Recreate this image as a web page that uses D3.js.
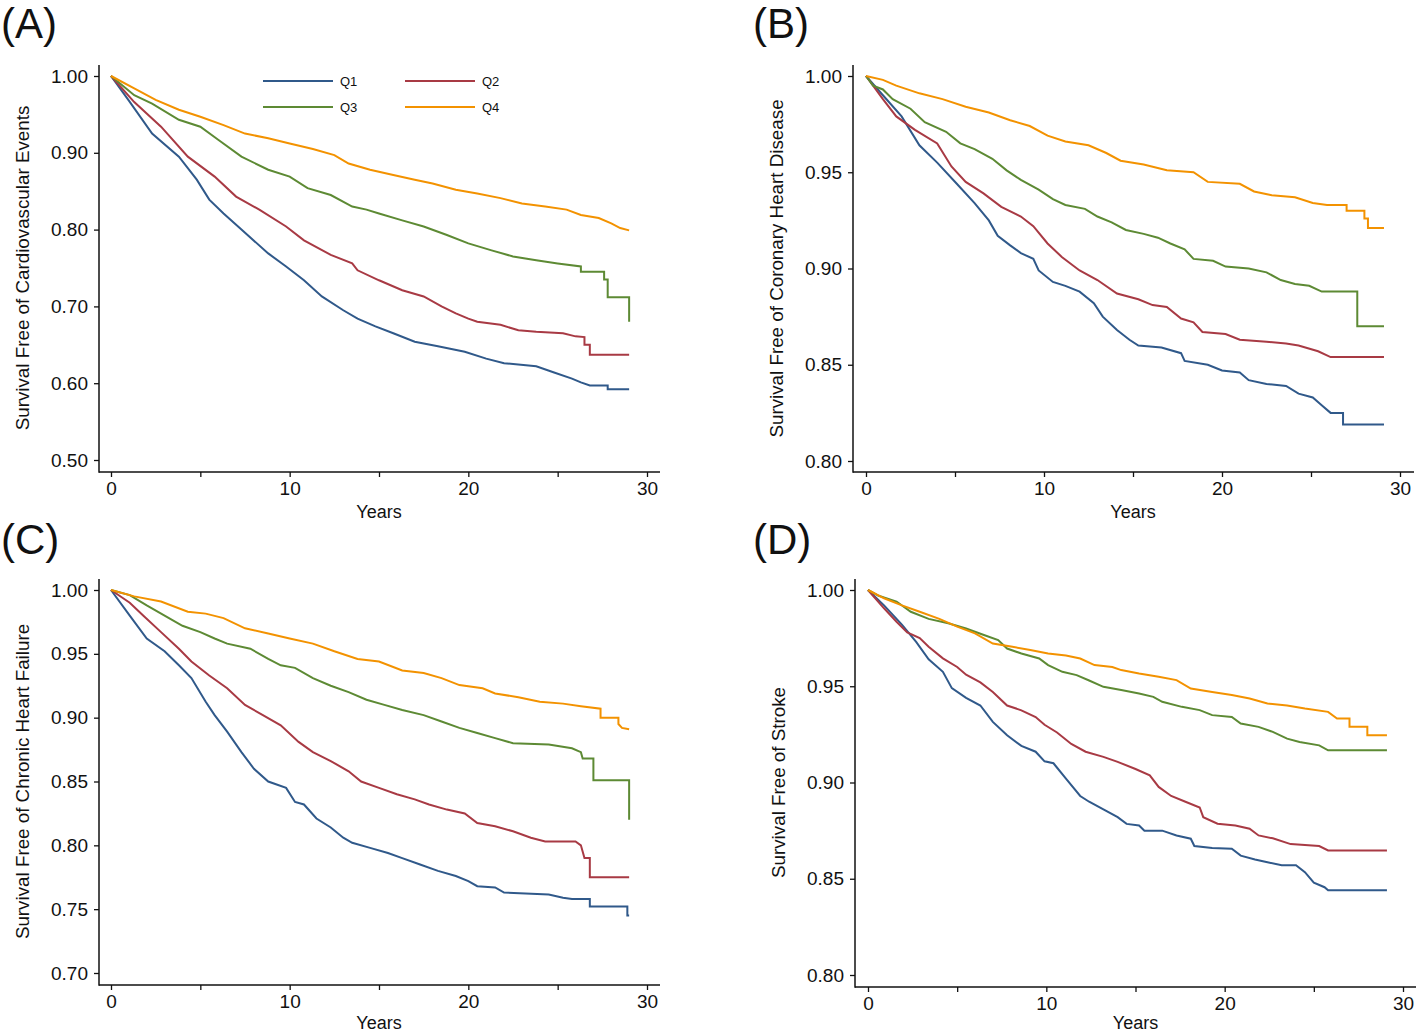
<!DOCTYPE html>
<html>
<head>
<meta charset="utf-8">
<style>
    body { margin: 0; background: #fff; }
    svg { display: block; font-family: 'Liberation Sans', Arial, sans-serif; }
    .tick text { font-size: 19px; fill: #111; }
    .tick line { stroke: #111; stroke-width: 1.3; }
    .ytitle { font-size: 18.8px; fill: #111; }
    .xtitle { font-size: 18px; fill: #111; }
    .plabel { font-size: 42px; fill: #111; }
    .leg { font-size: 13px; fill: #111; }
</style>
</head>
<body>
<svg width="1418" height="1034"></svg>
<script src="https://d3js.org/d3.v7.min.js"></script>
<script>
// series names and colours
const groups = ["Q1", "Q2", "Q3", "Q4"]
const colors = ["#30598a", "#a83a44", "#5d8a34", "#f39200"]

// x axis ticks (years)
const xTicks = [0, 5, 10, 15, 20, 25, 30]
const xLabels = [0, 10, 20, 30]

// (A) cardiovascular events  [years, survival]
const aQ1 = [[0,1],[1,0.968],[2.3,0.925],[3.8,0.895],[4.8,0.865],[5.5,0.839],[6.3,0.821],[7.3,0.80],[8.8,0.769],[9.8,0.752],[10.8,0.734],[11.8,0.713],[13,0.695],[13.8,0.684],[14.8,0.674],[15.8,0.665],[17,0.654],[18.3,0.648],[19.8,0.641],[21,0.632],[22,0.626],[23.8,0.622],[24.8,0.614],[25.8,0.606],[26.3,0.601],[26.8,0.597],[27.8,0.597],[27.8,0.592],[29,0.592]]
const aQ2 = [[0,1],[1.3,0.966],[2.8,0.934],[4.3,0.895],[5.8,0.869],[7,0.843],[8.3,0.826],[9.8,0.804],[10.8,0.786],[12.3,0.767],[13.5,0.756],[13.8,0.747],[15,0.734],[16.3,0.721],[17.5,0.713],[18.5,0.700],[19.3,0.691],[20,0.684],[20.5,0.680],[21.8,0.676],[22.8,0.669],[23.8,0.667],[25.3,0.665],[26,0.661],[26.5,0.660],[26.5,0.650],[26.8,0.650],[26.8,0.637],[29,0.637]]
const aQ3 = [[0,1],[1.3,0.975],[2.3,0.964],[3.8,0.943],[5,0.934],[6,0.917],[7.3,0.895],[8.8,0.878],[10,0.869],[11,0.854],[12.3,0.845],[13.5,0.830],[14.3,0.826],[15,0.821],[16.3,0.812],[17.5,0.804],[18.8,0.793],[20,0.782],[21.3,0.773],[22.5,0.765],[23.8,0.760],[25,0.756],[26.3,0.752],[26.3,0.745],[27.6,0.745],[27.6,0.735],[27.8,0.735],[27.8,0.712],[29,0.712],[29,0.680]]
const aQ4 = [[0,1],[1.3,0.984],[2.5,0.969],[3.8,0.956],[5,0.947],[6.3,0.936],[7.5,0.925],[8.8,0.919],[10,0.912],[11.3,0.905],[12.5,0.897],[13.3,0.886],[14.5,0.878],[15.8,0.871],[17,0.865],[18,0.860],[19.3,0.852],[20.5,0.847],[21.8,0.841],[23,0.834],[24.3,0.830],[25.5,0.826],[26.3,0.819],[27.3,0.815],[28,0.808],[28.5,0.802],[29,0.799]]

// (B) coronary heart disease
const bQ1 = [[0,1],[0.95,0.99],[2,0.979],[3,0.964],[4,0.955],[5.1,0.944],[6.1,0.934],[6.9,0.925],[7.4,0.917],[8.1,0.912],[8.7,0.908],[9.4,0.905],[9.7,0.899],[10.5,0.893],[11.2,0.891],[12,0.888],[12.8,0.882],[13.3,0.875],[14.1,0.868],[14.8,0.863],[15.3,0.860],[16.6,0.859],[17.7,0.856],[17.9,0.852],[19.2,0.850],[20,0.847],[21,0.846],[21.5,0.842],[22.5,0.840],[23.6,0.839],[24.3,0.835],[25.1,0.833],[25.6,0.829],[26.1,0.825],[26.8,0.825],[26.8,0.819],[29.1,0.819]]
const bQ2 = [[0,1],[0.95,0.988],[1.7,0.979],[2.75,0.972],[4,0.965],[4.8,0.953],[5.6,0.945],[6.6,0.939],[7.6,0.932],[8.7,0.927],[9.4,0.922],[10.2,0.913],[11,0.906],[12,0.899],[13,0.894],[14.1,0.887],[15.3,0.884],[16.1,0.881],[16.9,0.880],[17.7,0.874],[18.4,0.872],[18.9,0.867],[20.2,0.866],[21,0.863],[22.5,0.862],[23.6,0.861],[24.3,0.860],[25.4,0.857],[26.1,0.854],[29.1,0.854]]
const bQ3 = [[0,1],[0.4,0.995],[0.95,0.993],[1.5,0.988],[2.5,0.983],[3.3,0.976],[4.5,0.971],[5.3,0.965],[6.1,0.962],[7.1,0.957],[7.9,0.951],[8.7,0.946],[9.7,0.941],[10.5,0.936],[11.2,0.933],[12.3,0.931],[13,0.927],[13.8,0.924],[14.6,0.920],[15.6,0.918],[16.4,0.916],[17.1,0.913],[17.9,0.910],[18.4,0.905],[19.5,0.904],[20.2,0.901],[21.5,0.900],[22.5,0.898],[23.3,0.894],[24.1,0.892],[24.9,0.891],[25.6,0.888],[27.6,0.888],[27.6,0.870],[29.1,0.870]]
const bQ4 = [[0,1],[0.95,0.998],[1.7,0.995],[3,0.991],[4.3,0.988],[5.6,0.984],[6.9,0.981],[8.1,0.977],[9.2,0.974],[10.2,0.969],[11.2,0.966],[12.5,0.964],[13.5,0.960],[14.3,0.956],[15.6,0.954],[16.9,0.951],[18.4,0.950],[19.2,0.945],[21,0.944],[21.8,0.940],[22.8,0.938],[24.1,0.937],[25.1,0.934],[25.9,0.933],[27,0.933],[27,0.930],[28,0.930],[28,0.926],[28.2,0.926],[28.2,0.921],[29.1,0.921]]

// (C) chronic heart failure
const cQ1 = [[0,1],[1.05,0.980],[2,0.962],[3,0.952],[3.8,0.941],[4.5,0.931],[5.3,0.9125],[5.8,0.902],[6.5,0.889],[7.3,0.873],[8,0.860],[8.8,0.850],[9.8,0.845],[10.3,0.834],[10.8,0.832],[11.5,0.821],[12.3,0.814],[13,0.806],[13.5,0.802],[14.5,0.798],[15.5,0.794],[16.3,0.790],[17.3,0.785],[18.3,0.780],[19.3,0.776],[20,0.772],[20.5,0.768],[21.5,0.767],[22,0.763],[24.5,0.7615],[25.3,0.759],[25.8,0.758],[26.8,0.758],[26.8,0.752],[28.9,0.752],[28.9,0.745],[29,0.745]]
const cQ2 = [[0,1],[1.05,0.99],[1.8,0.980],[2.8,0.967],[3.8,0.954],[4.5,0.944],[5.5,0.933],[6.5,0.923],[7.5,0.910],[8.5,0.902],[9.5,0.894],[10.5,0.881],[11.3,0.873],[12.3,0.866],[13.3,0.858],[14,0.850],[15,0.845],[16,0.840],[17,0.836],[17.8,0.832],[18.8,0.828],[19.8,0.825],[20.5,0.8175],[21.5,0.815],[22.5,0.811],[23.5,0.806],[24.3,0.803],[26,0.803],[26.3,0.800],[26.5,0.790],[26.8,0.790],[26.8,0.775],[29,0.775]]
const cQ3 = [[0,1],[1.05,0.996],[2,0.988],[3,0.980],[4,0.972],[5,0.967],[5.8,0.962],[6.5,0.958],[7.8,0.954],[8.8,0.946],[9.5,0.941],[10.3,0.939],[11.3,0.931],[12.3,0.925],[13.3,0.920],[14.3,0.914],[15.3,0.910],[16.3,0.906],[17.5,0.902],[18.5,0.897],[19.5,0.892],[20.5,0.888],[21.5,0.884],[22.5,0.880],[24.5,0.879],[25.8,0.876],[26.3,0.873],[26.4,0.868],[27,0.868],[27,0.851],[29,0.851],[29,0.820]]
const cQ4 = [[0,1],[1.3,0.995],[2.8,0.991],[4.3,0.983],[5.3,0.9815],[6.3,0.978],[7.5,0.970],[8.8,0.966],[10,0.962],[11.3,0.958],[12.5,0.952],[13.8,0.946],[15,0.944],[16.3,0.937],[17.5,0.935],[18.5,0.931],[19.5,0.9255],[20.8,0.923],[21.5,0.919],[22.8,0.916],[24,0.9125],[25.3,0.911],[26.3,0.909],[27.4,0.907],[27.4,0.900],[28.4,0.900],[28.4,0.895],[28.6,0.892],[29,0.891]]

// (D) stroke
const dQ1 = [[0,1],[0.9,0.992],[1.9,0.982],[2.7,0.973],[3.4,0.964],[4.2,0.9575],[4.7,0.949],[5.5,0.944],[6.3,0.940],[7,0.9315],[7.8,0.9245],[8.6,0.919],[9.4,0.916],[9.9,0.911],[10.4,0.910],[11.1,0.902],[11.9,0.893],[12.4,0.890],[13.2,0.886],[14,0.882],[14.5,0.8785],[15.2,0.8777],[15.5,0.875],[16.5,0.875],[17.3,0.8725],[18.1,0.8708],[18.3,0.867],[19.3,0.866],[20.4,0.8656],[20.9,0.862],[21.7,0.860],[22.4,0.8586],[23.2,0.857],[24,0.857],[24.5,0.8534],[25,0.848],[25.6,0.8456],[25.8,0.844],[29.1,0.844]]
const dQ2 = [[0,1],[0.9,0.9905],[1.6,0.9835],[2.2,0.978],[2.9,0.975],[3.4,0.9705],[4.2,0.9645],[5,0.960],[5.5,0.956],[6.3,0.952],[7,0.947],[7.8,0.940],[8.6,0.9375],[9.4,0.934],[9.9,0.930],[10.6,0.926],[11.4,0.920],[12.2,0.916],[13.2,0.9133],[14,0.9107],[15,0.907],[15.8,0.9037],[16.3,0.8977],[17,0.893],[17.8,0.890],[18.6,0.887],[18.8,0.882],[19.6,0.8786],[20.6,0.8777],[21.4,0.876],[21.9,0.8725],[22.7,0.871],[23.7,0.868],[25.3,0.867],[25.8,0.8647],[29.1,0.8647]]
const dQ3 = [[0,1],[0.6,0.997],[1.6,0.994],[2.4,0.9887],[3.4,0.985],[4.5,0.9827],[5.5,0.980],[6.5,0.9766],[7.3,0.974],[7.8,0.9696],[8.6,0.967],[9.6,0.9644],[10.1,0.961],[10.9,0.9575],[11.7,0.9558],[12.4,0.953],[13.2,0.9497],[14.2,0.948],[15.2,0.9462],[16,0.9445],[16.5,0.9419],[17.6,0.9393],[18.6,0.9376],[19.3,0.935],[20.4,0.934],[20.9,0.9306],[21.9,0.9289],[22.7,0.9263],[23.5,0.9228],[24.2,0.921],[25.3,0.9193],[25.8,0.9167],[29.1,0.9167]]
const dQ4 = [[0,1],[0.9,0.9957],[1.9,0.992],[2.9,0.9887],[4,0.985],[5,0.981],[6,0.9775],[7,0.9722],[8.1,0.9705],[9.1,0.9688],[10.1,0.967],[11.1,0.966],[11.9,0.9644],[12.7,0.961],[13.7,0.960],[14.2,0.9584],[15.2,0.9566],[16.3,0.9549],[17.3,0.9532],[18.1,0.9488],[19.3,0.947],[20.4,0.9454],[21.4,0.9436],[22.4,0.941],[23.5,0.940],[24.5,0.9384],[25.8,0.9367],[26.3,0.9332],[27,0.9332],[27,0.929],[28,0.929],[28,0.9245],[29.1,0.9245]]

// y ticks per panel
const aYTicks = [0.5, 0.6, 0.7, 0.8, 0.9, 1.0]
const bYTicks = [0.80, 0.85, 0.90, 0.95, 1.00]
const cYTicks = [0.70, 0.75, 0.80, 0.85, 0.90, 0.95, 1.00]
const dYTicks = [0.80, 0.85, 0.90, 0.95, 1.00]

// panel layout (pixels)
const panels = [
    { label: "(A)", title: "Survival Free of Cardiovascular Events", series: [aQ1, aQ2, aQ3, aQ4], yTicks: aYTicks,
      lx: 1, ly: 38, axX: 99, x0: 111, x1: 647, xEnd: 660, yTop: 65, yLo: 460, yHi: 76, axY: 472, ty: 518, legend: true },
    { label: "(B)", title: "Survival Free of Coronary Heart Disease", series: [bQ1, bQ2, bQ3, bQ4], yTicks: bYTicks,
      lx: 753, ly: 38, axX: 853, x0: 866, x1: 1400, xEnd: 1414, yTop: 65, yLo: 461, yHi: 76, axY: 472, ty: 518 },
    { label: "(C)", title: "Survival Free of Chronic Heart Failure", series: [cQ1, cQ2, cQ3, cQ4], yTicks: cYTicks,
      lx: 1, ly: 554, axX: 99, x0: 111, x1: 647, xEnd: 660, yTop: 579, yLo: 973, yHi: 590, axY: 985, ty: 1029 },
    { label: "(D)", title: "Survival Free of Stroke", series: [dQ1, dQ2, dQ3, dQ4], yTicks: dYTicks,
      lx: 753, ly: 554, axX: 855, x0: 868, x1: 1403, xEnd: 1416, yTop: 579, yLo: 975, yHi: 590, axY: 987, ty: 1029 }
]

let svg = d3.select("svg")
svg.append("rect").attr("width", 1418).attr("height", 1034).attr("fill", "#fff")

panels.forEach(p => {
    let x = d3.scaleLinear().domain([0, 30]).range([p.x0, p.x1])
    let y = d3.scaleLinear().domain([p.yTicks[0], 1]).range([p.yLo, p.yHi])
    let g = svg.append("g")

    g.append("text").attr("class", "plabel").attr("x", p.lx).attr("y", p.ly).text(p.label)

    // axis lines
    g.append("line").attr("x1", p.axX).attr("x2", p.axX).attr("y1", p.yTop).attr("y2", p.axY + 0.7)
        .attr("stroke", "#111").attr("stroke-width", 1.5)
    g.append("line").attr("x1", p.axX).attr("x2", p.xEnd).attr("y1", p.axY).attr("y2", p.axY)
        .attr("stroke", "#111").attr("stroke-width", 1.5)

    let yAxis = g.append("g").attr("transform", `translate(${p.axX},0)`)
        .call(d3.axisLeft(y).tickValues(p.yTicks).tickFormat(d3.format(".2f")).tickSize(5).tickPadding(6))
    yAxis.select(".domain").remove()

    let xAxis = g.append("g").attr("transform", `translate(0,${p.axY})`)
        .call(d3.axisBottom(x).tickValues(xTicks).tickSize(5).tickPadding(5)
            .tickFormat(d => xLabels.includes(d) ? d : ""))
    xAxis.select(".domain").remove()
    yAxis.selectAll("text").attr("font-family", null)
    xAxis.selectAll("text").attr("font-family", null)
    svg.selectAll(".tick text").attr("font-size", null)

    g.append("text").attr("class", "xtitle").attr("text-anchor", "middle")
        .attr("x", (p.x0 + p.x1) / 2).attr("y", p.ty).text("Years")
    g.append("text").attr("class", "ytitle").attr("text-anchor", "middle")
        .attr("transform", `translate(${p.axX - 70},${(p.yLo + p.yHi) / 2}) rotate(-90)`).text(p.title)

    let line = d3.line().x(d => x(d[0])).y(d => y(d[1])).curve(d3.curveLinear)
    p.series.forEach((s, i) => {
        g.append("path").datum(s).attr("d", line)
            .attr("fill", "none").attr("stroke", colors[i]).attr("stroke-width", 2)
    })

    if (p.legend) {
        let leg = g.append("g")
        groups.forEach((name, i) => {
            let lx = 263 + (i % 2) * 142
            let ly = 81 + Math.floor(i / 2) * 26
            leg.append("line").attr("x1", lx).attr("x2", lx + 70).attr("y1", ly).attr("y2", ly)
                .attr("stroke", colors[i]).attr("stroke-width", 2)
            leg.append("text").attr("class", "leg").attr("x", lx + 77).attr("y", ly + 5).text(name)
        })
    }
})
</script>
</body>
</html>
